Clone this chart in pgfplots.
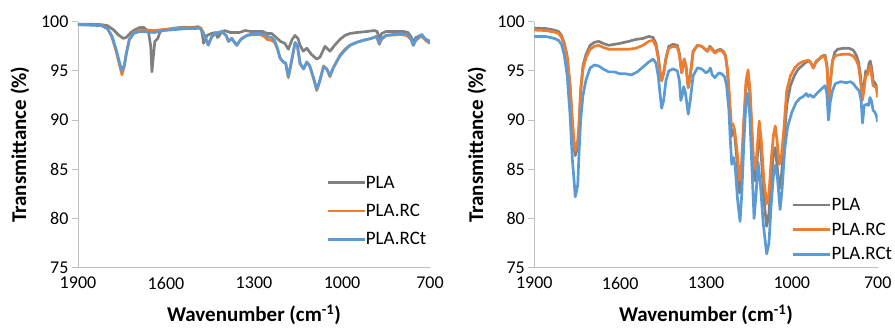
\documentclass[border=0pt]{standalone}
\usepackage{fontspec}
\setmainfont{Carlito}
\usepackage{pgfplots}
\pgfplotsset{compat=1.18}
\definecolor{cgray}{HTML}{808080}
\definecolor{corange}{HTML}{ED7D31}
\definecolor{cblue}{HTML}{5B9BD5}
\definecolor{axgray}{HTML}{BFBFBF}
\pgfplotsset{ftir/.style={
  scale only axis, height=246pt,
  x dir=reverse, xmin=700, xmax=1900, ymin=75, ymax=100,
  xtick={700,1000,1300,1600,1900}, ytick={75,80,85,90,95,100},
  axis x line*=bottom, axis y line*=left,
  axis line style={axgray, line width=0.8pt, -},
  tick align=outside, major tick length=6pt,
  xtick style={draw=none}, ytick style={axgray, line width=0.8pt},
  tick label style={font=\fontsize{18}{20}\selectfont, black},
  /pgf/number format/assume math mode=true,
  /pgf/number format/1000 sep={},
  xlabel={Wavenumber (cm\textsuperscript{-1})},
  ylabel={Transmittance (\%)},
  label style={font=\fontsize{21}{24}\selectfont\bfseries},
  xlabel style={at={(axis description cs:0.5,-0.191)}, anchor=center},
  legend cell align=left,
  legend image code/.code={\draw[#1, line width=2.7pt] (0pt,0pt) -- (37pt,0pt);},
  every axis plot/.append style={line width=2.7pt, line join=round, mark=none},
}}
\begin{document}
\begin{tikzpicture}
\useasboundingbox (0,0) rectangle (895pt,328pt);
% ---------------- left panel ----------------
\begin{axis}[ftir, width=352pt, at={(78pt,60.3pt)}, anchor=south west,
  ylabel style={at={(axis description cs:-0.165,0.5)}, anchor=center},
  legend style={draw=none, fill=none, font=\fontsize{19}{21}\selectfont,
    at={(axis description cs:0.696,0.39)}, anchor=north west, row sep=10.5pt}]
\addplot[cgray] coordinates {
(1900,99.75)(1860,99.75)(1820,99.7)(1800,99.6)(1780,99.2)(1760,98.6)(1745,98.3)(1735,98.4)
(1720,98.9)(1705,99.2)(1690,99.4)(1675,99.4)(1660,99.0)(1652,97.5)(1648,94.9)(1643,96.5)
(1638,98.0)(1628,98.3)(1620,99.0)(1600,99.2)(1570,99.35)(1540,99.45)(1510,99.4)(1490,99.5)
(1480,99.3)(1475,98.5)(1472,97.8)(1466,98.2)(1460,98.6)(1445,98.8)(1430,98.9)(1425,98.4)
(1420,98.5)(1412,98.9)(1400,99.1)(1380,98.9)(1350,98.9)(1330,99.1)(1310,99.0)(1290,99.0)
(1270,99.0)(1255,98.8)(1240,98.8)(1228,98.5)(1210,98.0)(1195,97.8)(1183,97.2)(1170,98.2)
(1160,98.6)(1150,98.3)(1143,97.6)(1132,97.0)(1120,97.3)(1105,96.7)(1086,96.2)(1075,96.4)
(1058,97.5)(1041,97.0)(1025,97.6)(1007,98.2)(990,98.6)(973,98.8)(950,98.9)(916,99.0)
(890,99.1)(880,99.0)(873,98.2)(865,98.8)(850,99.0)(820,99.0)(790,99.0)(775,98.9)
(765,98.5)(757,97.9)(748,98.4)(740,98.5)(733,98.6)(720,98.3)(700,98.0)};
\addlegendentry{\hspace{-2pt}PLA}
\addplot[corange] coordinates {
(1900,99.7)(1820,99.65)(1800,99.3)(1785,98.5)(1770,97.0)(1760,95.8)(1750,94.6)(1742,95.5)
(1735,96.8)(1725,98.2)(1710,98.9)(1690,99.1)(1660,99.15)(1640,99.1)(1610,99.2)(1570,99.3)
(1530,99.4)(1500,99.35)(1485,99.4)(1475,99.0)(1465,98.3)(1456,97.7)(1445,98.4)(1433,98.8)
(1410,99.0)(1395,98.6)(1387,98.0)(1376,98.3)(1359,97.6)(1345,98.2)(1325,98.6)(1300,98.7)
(1280,98.7)(1265,98.5)(1255,98.2)(1240,98.1)(1230,97.9)(1220,97.2)(1211,96.3)(1200,95.9)
(1192,95.8)(1183,94.3)(1172,96.0)(1160,97.8)(1152,97.5)(1143,95.7)(1131,95.2)(1120,95.9)
(1110,95.5)(1095,94.0)(1086,93.0)(1075,94.0)(1063,95.5)(1052,95.2)(1041,94.4)(1030,95.3)
(1007,96.6)(990,97.2)(973,97.6)(950,97.9)(928,98.1)(900,98.3)(882,98.5)(873,97.7)
(865,98.2)(850,98.6)(800,98.7)(779,98.6)(765,98.2)(757,97.6)(748,98.1)(740,98.3)
(728,98.6)(715,98.1)(700,97.8)};
\addlegendentry{\hspace{-2pt}PLA.RC}
\addplot[cblue] coordinates {
(1900,99.7)(1820,99.6)(1800,99.3)(1785,98.6)(1770,97.2)(1760,96.0)(1750,95.0)(1742,95.6)
(1735,96.8)(1725,98.2)(1710,98.8)(1690,99.0)(1660,98.95)(1640,98.9)(1610,99.1)(1570,99.2)
(1530,99.3)(1500,99.3)(1485,99.35)(1475,99.0)(1465,98.3)(1456,97.6)(1445,98.4)(1433,98.8)
(1410,99.0)(1395,98.6)(1387,98.0)(1376,98.3)(1359,97.6)(1345,98.2)(1325,98.6)(1300,98.8)
(1280,98.8)(1265,98.7)(1255,98.5)(1240,98.4)(1230,98.1)(1220,97.3)(1211,96.3)(1200,95.9)
(1192,95.8)(1183,94.4)(1172,96.0)(1160,97.9)(1152,97.6)(1143,95.8)(1131,95.2)(1120,95.9)
(1110,95.5)(1095,94.1)(1086,93.1)(1075,94.1)(1063,95.4)(1052,95.2)(1041,94.5)(1030,95.3)
(1007,96.5)(990,97.1)(973,97.6)(950,97.9)(928,98.1)(900,98.3)(882,98.5)(873,97.8)
(865,98.3)(850,98.6)(800,98.8)(779,98.7)(765,98.3)(757,97.6)(748,98.2)(740,98.4)
(728,98.7)(715,98.2)(700,97.8)};
\addlegendentry{\hspace{-2pt}PLA.RCt}
\end{axis}
% ---------------- right panel ----------------
\begin{axis}[ftir, width=343.4pt, at={(534.3pt,60.3pt)}, anchor=south west,
  ylabel style={at={(axis description cs:-0.167,0.5)}, anchor=center},
  legend style={draw=none, fill=none, font=\fontsize{19}{21}\selectfont,
    at={(axis description cs:0.741,0.30)}, anchor=north west, row sep=7pt}]
\addplot[cgray] coordinates {
(1900,99.35)(1860,99.3)(1830,99.15)(1815,99.0)(1805,98.6)(1795,97.8)(1785,96.5)(1775,93.5)
(1767,89.5)(1760,87.0)(1757,86.4)(1752,86.9)(1748,87.5)(1744,89.0)(1738,93.0)(1730,95.5)
(1720,96.6)(1705,97.6)(1690,97.9)(1675,98.0)(1660,97.8)(1640,97.6)(1620,97.7)(1600,97.8)
(1570,98.0)(1545,98.2)(1520,98.3)(1500,98.5)(1485,98.4)(1475,97.8)(1467,96.5)(1460,94.8)
(1455,94.0)(1448,94.8)(1440,96.3)(1430,97.5)(1415,97.7)(1400,97.6)(1393,96.8)(1385,94.8)
(1380,95.5)(1376,96.2)(1370,95.5)(1362,93.3)(1355,94.5)(1345,97.0)(1330,97.6)(1315,97.5)
(1303,97.2)(1295,97.0)(1287,97.5)(1280,97.3)(1269,96.9)(1260,97.1)(1250,97.2)(1240,97.0)
(1232,96.6)(1225,95.0)(1218,91.5)(1212,88.3)(1206,89.0)(1200,88.5)(1192,86.0)(1183,82.6)
(1176,84.5)(1168,89.0)(1160,93.5)(1153,94.6)(1146,92.5)(1140,88.5)(1133,84.5)(1127,83.8)
(1120,86.5)(1114,89.3)(1107,86.5)(1098,82.0)(1088,79.2)(1080,80.5)(1072,84.0)(1064,86.8)
(1058,87.2)(1052,85.5)(1044,83.0)(1036,84.5)(1028,87.5)(1018,91.5)(1005,93.5)(990,94.6)
(977,95.2)(965,95.5)(954,95.8)(943,96.0)(935,95.9)(925,95.3)(915,95.9)(905,96.2)
(895,96.5)(884,96.6)(877,95.5)(871,92.3)(865,94.0)(858,96.0)(850,96.9)(840,97.2)
(820,97.3)(800,97.3)(785,97.1)(775,96.6)(767,95.9)(760,94.5)(754,92.5)(748,93.5)
(742,95.0)(736,94.8)(730,95.8)(726,96.0)(721,95.3)(716,94.0)(710,93.8)(705,93.5)(700,92.6)};
\addlegendentry{\hspace{-2pt}PLA}
\addplot[corange] coordinates {
(1900,99.15)(1860,99.1)(1830,98.95)(1815,98.8)(1805,98.4)(1795,97.6)(1785,96.3)(1775,93.5)
(1767,90.0)(1760,87.5)(1757,86.9)(1752,87.3)(1748,88.0)(1744,89.5)(1738,93.0)(1730,95.2)
(1720,96.3)(1705,97.2)(1690,97.5)(1675,97.6)(1660,97.4)(1640,97.2)(1620,97.2)(1600,97.2)
(1570,97.2)(1545,97.3)(1520,97.6)(1500,98.0)(1485,98.1)(1475,97.5)(1467,96.3)(1460,94.6)
(1455,94.0)(1448,94.8)(1440,96.2)(1430,97.3)(1415,97.5)(1400,97.4)(1393,96.6)(1385,94.8)
(1380,95.6)(1376,96.2)(1370,95.5)(1362,93.3)(1355,94.5)(1345,96.9)(1330,97.6)(1315,97.5)
(1303,97.2)(1295,97.0)(1287,97.4)(1280,97.2)(1269,96.8)(1260,97.0)(1250,97.1)(1240,96.9)
(1232,96.5)(1225,95.2)(1218,92.5)(1212,89.7)(1206,89.6)(1200,89.0)(1192,87.0)(1183,83.9)
(1176,85.5)(1168,90.0)(1160,94.0)(1153,95.1)(1146,93.0)(1140,89.5)(1133,85.5)(1127,85.0)
(1120,87.5)(1114,89.9)(1107,88.0)(1098,84.0)(1088,81.5)(1080,82.5)(1072,86.0)(1064,88.5)
(1058,89.4)(1052,88.0)(1044,85.5)(1036,86.5)(1028,89.0)(1018,93.0)(1005,94.5)(990,95.3)
(977,95.7)(965,95.9)(954,96.0)(943,96.1)(935,95.9)(925,95.3)(915,96.0)(905,96.2)
(895,96.4)(884,96.5)(877,95.3)(871,92.0)(865,94.0)(858,96.0)(850,96.5)(840,96.6)
(820,96.7)(800,96.7)(785,96.5)(775,96.1)(767,95.5)(760,94.0)(754,92.0)(748,93.0)
(742,94.5)(736,94.6)(730,95.3)(726,95.5)(721,94.5)(716,93.5)(710,93.4)(705,93.3)(700,92.3)};
\addlegendentry{\hspace{-2pt}PLA.RC}
\addplot[cblue] coordinates {
(1900,98.5)(1860,98.5)(1830,98.3)(1815,98.1)(1805,97.7)(1795,96.6)(1785,94.5)(1775,90.5)
(1767,86.0)(1760,83.5)(1757,82.2)(1752,82.8)(1748,83.5)(1744,86.5)(1738,90.0)(1730,92.5)
(1720,94.0)(1705,95.3)(1690,95.6)(1675,95.5)(1660,95.2)(1640,94.9)(1620,94.9)(1600,94.7)
(1580,94.7)(1560,94.6)(1540,94.9)(1520,95.4)(1500,95.9)(1485,96.2)(1475,95.8)(1467,94.5)
(1460,92.5)(1455,91.2)(1448,92.0)(1440,94.0)(1430,95.0)(1415,95.2)(1400,95.0)(1393,94.0)
(1388,92.0)(1383,92.5)(1378,93.4)(1372,92.8)(1362,90.6)(1355,92.0)(1345,94.5)(1330,95.3)
(1315,95.2)(1300,94.8)(1290,95.0)(1285,95.3)(1278,94.6)(1269,94.3)(1255,94.8)(1245,94.7)
(1235,94.4)(1228,93.5)(1220,91.0)(1215,88.0)(1210,85.5)(1204,86.2)(1198,85.3)(1190,82.0)
(1181,79.7)(1175,82.5)(1168,87.5)(1160,92.0)(1154,92.7)(1147,90.5)(1140,85.5)(1132,80.0)
(1125,82.5)(1118,85.7)(1110,83.5)(1100,79.5)(1088,76.4)(1080,77.5)(1072,81.5)(1064,84.5)
(1058,85.4)(1050,84.0)(1041,80.9)(1034,83.0)(1025,87.0)(1015,89.3)(1000,90.8)(985,91.8)
(972,92.2)(960,92.4)(950,92.7)(943,92.4)(937,92.6)(925,92.3)(910,92.8)(895,93.2)
(884,93.5)(878,92.8)(872,90.0)(866,91.8)(858,93.0)(848,93.7)(830,93.9)(810,93.8)
(795,93.9)(785,93.7)(775,93.3)(765,93.0)(758,92.0)(753,89.7)(747,91.5)(739,91.6)
(732,91.5)(727,92.3)(722,92.0)(716,91.0)(710,90.8)(705,90.5)(700,89.8)};
\addlegendentry{\hspace{-2pt}PLA.RCt}
\end{axis}
\end{tikzpicture}
\end{document}
